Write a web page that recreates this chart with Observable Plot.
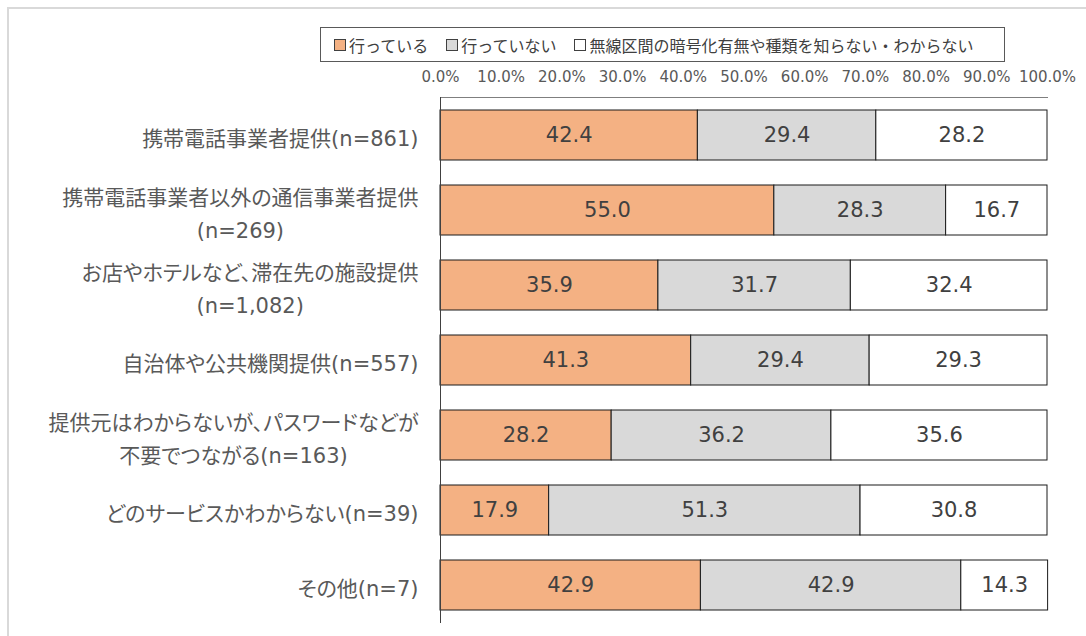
<!DOCTYPE html>
<html>
<head>
<meta charset="utf-8">
<script src="https://cdn.jsdelivr.net/npm/d3@7"></script>
<script src="https://cdn.jsdelivr.net/npm/@observablehq/plot@0.6"></script>
<style>
  html, body { margin: 0; padding: 0; background: #fff; }
  #wrap { position: relative; width: 1086px; height: 636px; overflow: hidden;
          font-family: "DejaVu Sans", "Noto Sans CJK JP", sans-serif; }
  #border { position: absolute; left: 7px; top: 7px; width: 1200px; height: 700px;
            border-top: 2px solid #d9d9d9; border-left: 2px solid #d9d9d9; }
  #legend { position: absolute; left: 320px; top: 27px; width: 670px; height: 33px;
            border: 1px solid #595959; display: flex; align-items: center;
            padding-left: 13px; box-sizing: content-box; font-size: 16px; color: #404040; }
  #legend .item { display: flex; align-items: center; margin-right: 18px; white-space: nowrap; }
  #legend .sw { width: 10px; height: 10px; border: 1px solid #404040; margin-right: 3px; }
  #chart { position: absolute; left: 0; top: 0; }
  .cat text { font-feature-settings: "palt"; }
</style>
</head>
<body>
<div id="wrap">
  <div id="border"></div>
  <div id="chart"></div>
  <div id="legend"></div>
</div>
<script>
const categories = [
  "携帯電話事業者提供(n=861)",
  "携帯電話事業者以外の通信事業者提供\n(n=269)",
  "お店やホテルなど、滞在先の施設提供\n(n=1,082)",
  "自治体や公共機関提供(n=557)",
  "提供元はわからないが、パスワードなどが\n不要でつながる(n=163)",
  "どのサービスかわからない(n=39)",
  "その他(n=7)"
];
const seriesNames = ["行っている", "行っていない", "無線区間の暗号化有無や種類を知らない・わからない"];
const doing = [42.4, 55.0, 35.9, 41.3, 28.2, 17.9, 42.9];
const notDoing = [29.4, 28.3, 31.7, 29.4, 36.2, 51.3, 42.9];
const unknown = [28.2, 16.7, 32.4, 29.3, 35.6, 30.8, 14.3];
const seriesColors = ["#F4B183", "#D9D9D9", "#FFFFFF"];
const tickValues = [0, 10, 20, 30, 40, 50, 60, 70, 80, 90, 100];

const seriesValues = [doing, notDoing, unknown];
const data = [];
seriesNames.forEach((s, si) => {
  categories.forEach((c, ci) => {
    data.push({category: c, series: s, value: seriesValues[si][ci]});
  });
});

const plot = Plot.plot({
  width: 1086,
  height: 636,
  marginLeft: 440,
  marginRight: 39,
  marginTop: 97,
  marginBottom: 13,
  style: {fontFamily: '"DejaVu Sans", "Noto Sans CJK JP", sans-serif', background: "transparent"},
  x: {domain: [0, 100], axis: null},
  y: {domain: categories, paddingInner: 0.333, paddingOuter: 0.167, axis: null},
  color: {domain: seriesNames, range: seriesColors},
  marks: [
    Plot.barX(data, {y: "category", x: "value", fill: "series", stroke: "#1a1a1a", strokeWidth: 1}),
    Plot.text(data, Plot.stackX({y: "category", x: "value", z: "series",
      text: d => d.value.toFixed(1), fill: "#404040", fontSize: 21})),
    Plot.axisX({anchor: "top", ticks: tickValues, tickFormat: d => d.toFixed(1) + "%",
      tickSize: 0, tickPadding: 16, fontSize: 15, fill: "#595959", label: null}),
    Plot.frame({anchor: "top", stroke: "#7f7f7f"}),
    Plot.ruleX([0], {stroke: "#404040"}),
    Plot.text(categories, {y: d => d, text: d => d, frameAnchor: "left", dx: -22,
      textAnchor: "end", fontSize: 21, lineHeight: 1.57, fill: "#595959", className: "cat"})
  ]
});
document.getElementById("chart").appendChild(plot);

// center multi-line category labels within their right-aligned block
plot.querySelectorAll("text").forEach(t => {
  const spans = t.querySelectorAll("tspan");
  if (spans.length > 1) {
    let maxW = 0;
    spans.forEach(s => { maxW = Math.max(maxW, s.getComputedTextLength()); });
    t.setAttribute("text-anchor", "middle");
    spans.forEach(s => s.setAttribute("x", -maxW / 2));
  }
});

const legend = document.getElementById("legend");
seriesNames.forEach((s, i) => {
  const item = document.createElement("div");
  item.className = "item";
  const sw = document.createElement("div");
  sw.className = "sw";
  sw.style.background = seriesColors[i];
  const tx = document.createElement("span");
  tx.textContent = s;
  item.appendChild(sw);
  item.appendChild(tx);
  legend.appendChild(item);
});
</script>
</body>
</html>
